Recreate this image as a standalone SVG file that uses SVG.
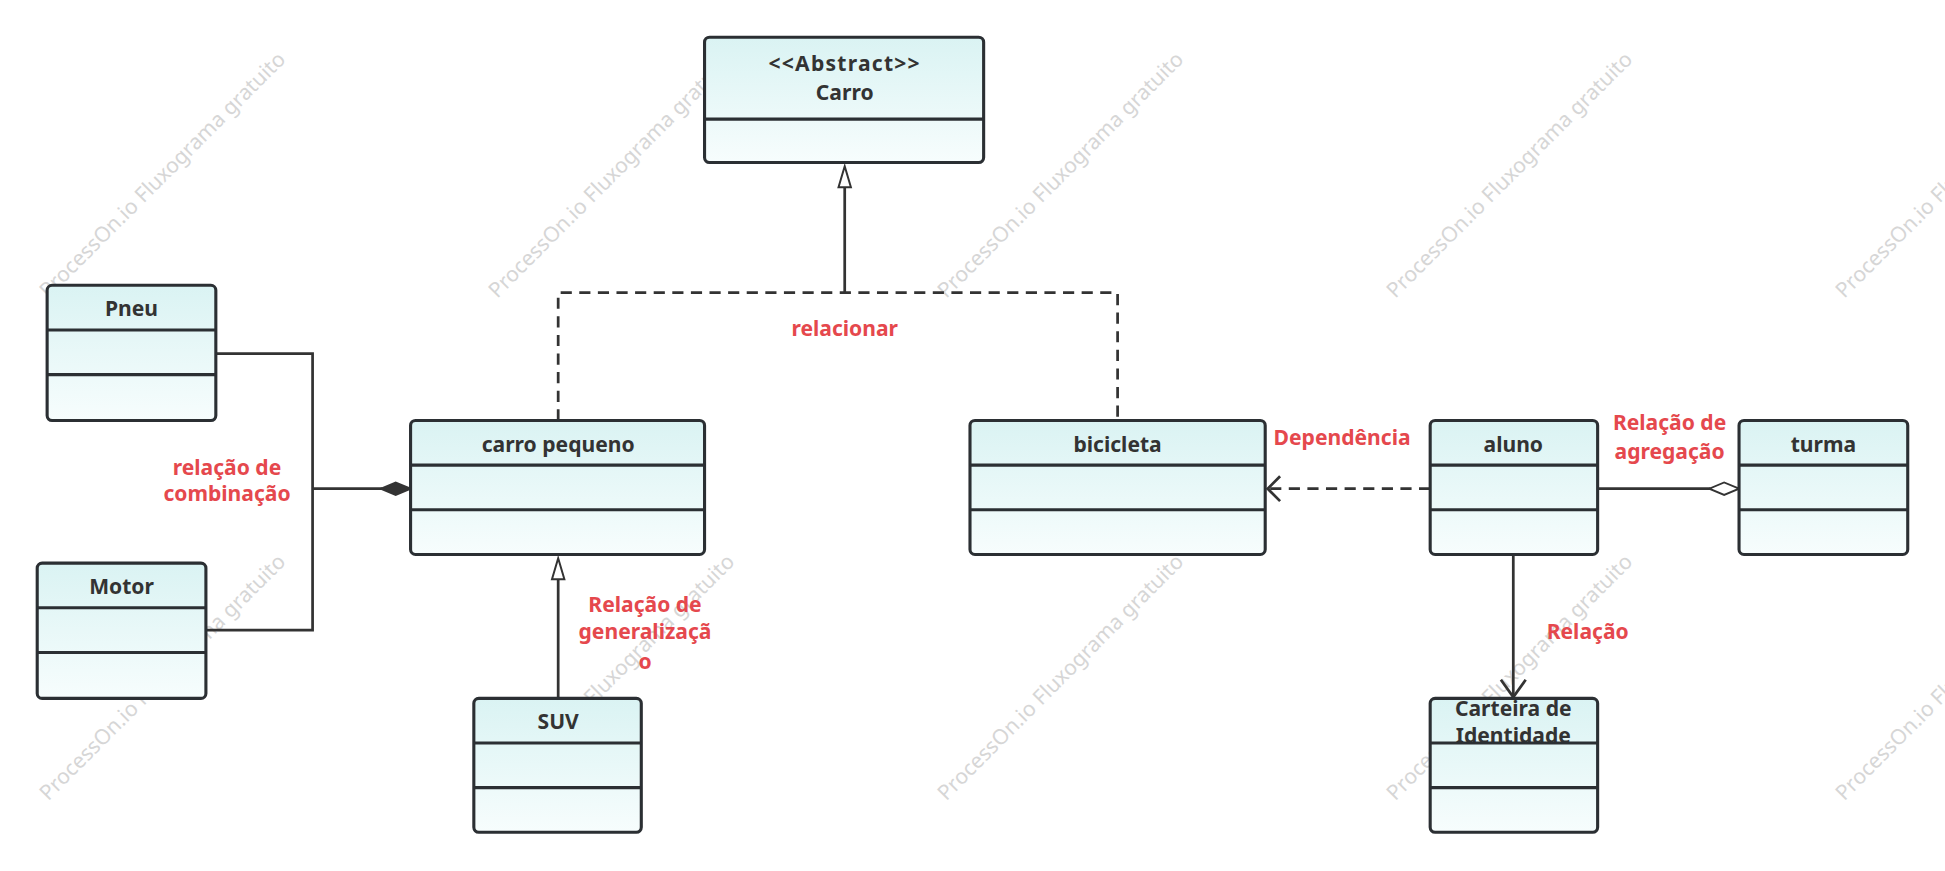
<svg xmlns="http://www.w3.org/2000/svg" width="1945" height="871" viewBox="0 0 1945 871">
<defs>
<linearGradient id="g" x1="0" y1="0" x2="0" y2="1"><stop offset="0" stop-color="#daf3f3"/><stop offset="1" stop-color="#f7fdfd"/></linearGradient>
</defs>
<style>
.box{fill:url(#g);stroke:#2b2f33;stroke-width:2.5}
.div{stroke:#2b2f33;stroke-width:2.5}
.t{font-family:"Noto Sans","Liberation Sans",sans-serif;font-weight:bold;font-size:17px;fill:#333;text-anchor:middle}
.r{font-family:"Noto Sans","Liberation Sans",sans-serif;font-weight:bold;font-size:17px;fill:#e5484d;text-anchor:middle}
.w{font-family:"Noto Sans","Liberation Sans",sans-serif;font-size:17px;fill:#d6d6d6;text-anchor:middle}
.c{fill:none;stroke:#333;stroke-width:2.2}
.d{fill:none;stroke:#333;stroke-width:2.2;stroke-dasharray:9,6}
.ht{fill:#fff;stroke:#333;stroke-width:1.6}
</style>
<g transform="scale(1.2404)">
<g id="watermarks">
<text class="w" transform="translate(135,145) rotate(-45)">ProcessOn.io Fluxograma gratuito</text>
<text class="w" transform="translate(497,145) rotate(-45)">ProcessOn.io Fluxograma gratuito</text>
<text class="w" transform="translate(859,145) rotate(-45)">ProcessOn.io Fluxograma gratuito</text>
<text class="w" transform="translate(1221,145) rotate(-45)">ProcessOn.io Fluxograma gratuito</text>
<text class="w" transform="translate(1583,145) rotate(-45)">ProcessOn.io Fluxograma gratuito</text>
<text class="w" transform="translate(135,550) rotate(-45)">ProcessOn.io Fluxograma gratuito</text>
<text class="w" transform="translate(497,550) rotate(-45)">ProcessOn.io Fluxograma gratuito</text>
<text class="w" transform="translate(859,550) rotate(-45)">ProcessOn.io Fluxograma gratuito</text>
<text class="w" transform="translate(1221,550) rotate(-45)">ProcessOn.io Fluxograma gratuito</text>
<text class="w" transform="translate(1583,550) rotate(-45)">ProcessOn.io Fluxograma gratuito</text>
</g>
<g id="connectors">
<polyline class="c" points="174,285 252,285 252,508 166,508"/>
<line class="c" x1="252" y1="394" x2="308" y2="394" stroke-width="2.8"/>
<path d="M331,394 L319,389 L307,394 L319,399 Z" fill="#333" stroke="#333" stroke-width="1.5"/>
<polyline class="d" points="450,339 450,236 901,236 901,339"/>
<line class="c" x1="681" y1="236" x2="681" y2="151"/>
<path class="ht" d="M681,134 L686,151 L676,151 Z"/>
<line class="c" x1="450" y1="563" x2="450" y2="467"/>
<path class="ht" d="M450,450 L455,467 L445,467 Z"/>
<line class="d" x1="1153" y1="394" x2="1023" y2="394"/>
<polyline class="c" points="1032,384 1022,394 1032,404"/>
<line class="c" x1="1288" y1="394" x2="1379" y2="394"/>
<path d="M1402,394 L1390,389 L1378,394 L1390,399 Z" fill="#fff" stroke="#333" stroke-width="1.5"/>
<line class="c" x1="1220" y1="447" x2="1220" y2="562"/>
<polyline class="c" points="1210,548 1220,562 1230,548"/>
</g>
<g id="labels">
<text class="r" x="681" y="271">relacionar</text>
<text class="r" x="183" y="383">relação de</text>
<text class="r" x="183" y="404">combinação</text>
<text class="r" x="520" y="493">Relação de</text>
<text class="r" x="520" y="515">generalizaçã</text>
<text class="r" x="520" y="539">o</text>
<text class="r" x="1082" y="359">Dependência</text>
<text class="r" x="1346" y="347">Relação de</text>
<text class="r" x="1346" y="370">agregação</text>
<text class="r" x="1280" y="515">Relação</text>
</g>
<g id="carro"><rect class="box" x="568" y="30" width="225" height="101" rx="4"/><line class="div" x1="568" y1="96" x2="793" y2="96"/><text class="t" x="681" y="57" letter-spacing="1">&lt;&lt;Abstract&gt;&gt;</text><text class="t" x="681" y="81">Carro</text></g>
<g id="pneu"><rect class="box" x="38" y="230" width="136" height="109" rx="4"/><line class="div" x1="38" y1="266" x2="174" y2="266"/><line class="div" x1="38" y1="302" x2="174" y2="302"/><text class="t" x="106" y="255">Pneu</text></g>
<g id="motor"><rect class="box" x="30" y="454" width="136" height="109" rx="4"/><line class="div" x1="30" y1="490" x2="166" y2="490"/><line class="div" x1="30" y1="526" x2="166" y2="526"/><text class="t" x="98" y="479">Motor</text></g>
<g id="carropequeno"><rect class="box" x="331" y="339" width="237" height="108" rx="4"/><line class="div" x1="331" y1="375" x2="568" y2="375"/><line class="div" x1="331" y1="411" x2="568" y2="411"/><text class="t" x="450" y="364">carro pequeno</text></g>
<g id="suv"><rect class="box" x="382" y="563" width="135" height="108" rx="4"/><line class="div" x1="382" y1="599" x2="517" y2="599"/><line class="div" x1="382" y1="635" x2="517" y2="635"/><text class="t" x="450" y="588">SUV</text></g>
<g id="bicicleta"><rect class="box" x="782" y="339" width="238" height="108" rx="4"/><line class="div" x1="782" y1="375" x2="1020" y2="375"/><line class="div" x1="782" y1="411" x2="1020" y2="411"/><text class="t" x="901" y="364">bicicleta</text></g>
<g id="aluno"><rect class="box" x="1153" y="339" width="135" height="108" rx="4"/><line class="div" x1="1153" y1="375" x2="1288" y2="375"/><line class="div" x1="1153" y1="411" x2="1288" y2="411"/><text class="t" x="1220" y="364">aluno</text></g>
<g id="turma"><rect class="box" x="1402" y="339" width="136" height="108" rx="4"/><line class="div" x1="1402" y1="375" x2="1538" y2="375"/><line class="div" x1="1402" y1="411" x2="1538" y2="411"/><text class="t" x="1470" y="364">turma</text></g>
<g id="carteira"><rect class="box" x="1153" y="563" width="135" height="108" rx="4"/><text class="t" x="1220" y="577">Carteira de</text><text class="t" x="1220" y="599">Identidade</text><line class="div" x1="1153" y1="599" x2="1288" y2="599"/><line class="div" x1="1153" y1="635" x2="1288" y2="635"/></g>
</g>
</svg>
